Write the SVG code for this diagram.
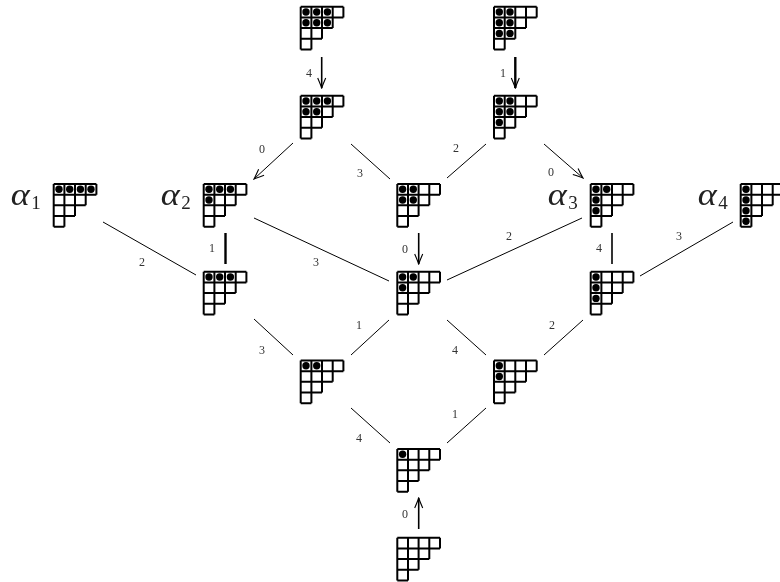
<svg xmlns="http://www.w3.org/2000/svg" width="780" height="582" viewBox="0 0 780 582">
<style>
.g{fill:none;stroke:#000;stroke-width:2}
.c{fill:none;stroke:#000;stroke-width:1}
.t{stroke-width:2.4}
.m{stroke-width:1.6}
.l{font:12px "Liberation Serif",serif;fill:#333;text-anchor:middle}
.a{font:italic 32px "Liberation Serif",serif;fill:#222}
.s{font:19px "Liberation Serif",serif;fill:#222}
</style>
<defs>
<filter id="f" x="0" y="0" width="780" height="582" filterUnits="userSpaceOnUse"><feOffset dx="0" dy="0"/></filter>
<filter id="f2" x="-50" y="-20" width="40" height="60" filterUnits="userSpaceOnUse"><feOffset dx="0" dy="0"/></filter>
<marker id="h" viewBox="-11 -6 12 12" markerWidth="12" markerHeight="12" refX="0" refY="0" orient="auto" markerUnits="userSpaceOnUse"><path d="M-10-4Q-3-1 0 0Q-3 1-10 4" fill="none" stroke="#000" stroke-width="1.1"/></marker>
<path id="y" class="g" d="M0 0H42.7M0 10.7H42.7M0 21.3H32M0 32H21.3M0 42.7H10.7M0 0V42.7M10.7 0V42.7M21.3 0V32M32 0V21.3M42.7 0V10.7"/>
<circle id="d" r="3.7"/>
</defs>
<g id="connectors">
<path class="c m" d="M321.7 57V88" marker-end="url(#h)"/>
<path class="c t" d="M515.3 57V88" marker-end="url(#h)"/>
<path class="c" d="M293 143L254 179" marker-end="url(#h)"/>
<path class="c" d="M351 144L390 179"/>
<path class="c" d="M486 144L447 178"/>
<path class="c" d="M544 144L583 178" marker-end="url(#h)"/>
<path class="c" d="M103 222L196 275"/>
<path class="c t" d="M225.5 233V264"/>
<path class="c" d="M254 218L389 281"/>
<path class="c m" d="M418.7 233V264" marker-end="url(#h)"/>
<path class="c" d="M447 280L582 218"/>
<path class="c m" d="M612 233V264"/>
<path class="c" d="M733 222L640 276"/>
<path class="c" d="M254 319L293 355"/>
<path class="c" d="M389 320L351 355"/>
<path class="c" d="M447 320L486 355"/>
<path class="c" d="M583 320L544 355"/>
<path class="c" d="M351 408L390 443"/>
<path class="c" d="M486 408L447 443"/>
<path class="c m" d="M418.7 529V498" marker-end="url(#h)"/>
<g class="labels" filter="url(#f)">
<text class="l" x="309" y="77">4</text>
<text class="l" x="503" y="77">1</text>
<text class="l" x="262" y="153">0</text>
<text class="l" x="360" y="177">3</text>
<text class="l" x="456" y="152">2</text>
<text class="l" x="551" y="176">0</text>
<text class="l" x="142" y="266">2</text>
<text class="l" x="212" y="252">1</text>
<text class="l" x="316" y="266">3</text>
<text class="l" x="405" y="253">0</text>
<text class="l" x="509" y="240">2</text>
<text class="l" x="599" y="252">4</text>
<text class="l" x="679" y="240">3</text>
<text class="l" x="359" y="329">1</text>
<text class="l" x="455" y="354">4</text>
<text class="l" x="262" y="354">3</text>
<text class="l" x="552" y="329">2</text>
<text class="l" x="359" y="442">4</text>
<text class="l" x="455" y="418">1</text>
<text class="l" x="405" y="518">0</text>
</g>
</g>
<g id="n1" transform="translate(300.7 6.7)"><use href="#y"/><use href="#d" x="5.3" y="5.3"/><use href="#d" x="16" y="5.3"/><use href="#d" x="26.7" y="5.3"/><use href="#d" x="5.3" y="16"/><use href="#d" x="16" y="16"/><use href="#d" x="26.7" y="16"/></g>
<g id="n2" transform="translate(494 6.7)"><use href="#y"/><use href="#d" x="5.3" y="5.3"/><use href="#d" x="16" y="5.3"/><use href="#d" x="5.3" y="16"/><use href="#d" x="16" y="16"/><use href="#d" x="5.3" y="26.7"/><use href="#d" x="16" y="26.7"/></g>
<g id="n3" transform="translate(300.7 95.7)"><use href="#y"/><use href="#d" x="5.3" y="5.3"/><use href="#d" x="16" y="5.3"/><use href="#d" x="26.7" y="5.3"/><use href="#d" x="5.3" y="16"/><use href="#d" x="16" y="16"/></g>
<g id="n4" transform="translate(494 95.7)"><use href="#y"/><use href="#d" x="5.3" y="5.3"/><use href="#d" x="16" y="5.3"/><use href="#d" x="5.3" y="16"/><use href="#d" x="16" y="16"/><use href="#d" x="5.3" y="26.7"/></g>
<g id="alpha1" transform="translate(53.7 184)"><use href="#y"/><use href="#d" x="5.3" y="5.3"/><use href="#d" x="16" y="5.3"/><use href="#d" x="26.7" y="5.3"/><use href="#d" x="37.3" y="5.3"/><g filter="url(#f2)"><text class="a" x="-43" y="21" textLength="19" lengthAdjust="spacingAndGlyphs">α</text><text class="s" x="-22.5" y="25">1</text></g></g>
<g id="alpha2" transform="translate(203.7 184)"><use href="#y"/><use href="#d" x="5.3" y="5.3"/><use href="#d" x="16" y="5.3"/><use href="#d" x="26.7" y="5.3"/><use href="#d" x="5.3" y="16"/><g filter="url(#f2)"><text class="a" x="-43" y="21" textLength="19" lengthAdjust="spacingAndGlyphs">α</text><text class="s" x="-22.5" y="25">2</text></g></g>
<g id="n7" transform="translate(397.3 184)"><use href="#y"/><use href="#d" x="5.3" y="5.3"/><use href="#d" x="16" y="5.3"/><use href="#d" x="5.3" y="16"/><use href="#d" x="16" y="16"/></g>
<g id="alpha3" transform="translate(590.7 184)"><use href="#y"/><use href="#d" x="5.3" y="5.3"/><use href="#d" x="16" y="5.3"/><use href="#d" x="5.3" y="16"/><use href="#d" x="5.3" y="26.7"/><g filter="url(#f2)"><text class="a" x="-43" y="21" textLength="19" lengthAdjust="spacingAndGlyphs">α</text><text class="s" x="-22.5" y="25">3</text></g></g>
<g id="alpha4" transform="translate(740.7 184)"><use href="#y"/><use href="#d" x="5.3" y="5.3"/><use href="#d" x="5.3" y="16"/><use href="#d" x="5.3" y="26.7"/><use href="#d" x="5.3" y="37.3"/><g filter="url(#f2)"><text class="a" x="-43" y="21" textLength="19" lengthAdjust="spacingAndGlyphs">α</text><text class="s" x="-22.5" y="25">4</text></g></g>
<g id="n10" transform="translate(203.7 271.7)"><use href="#y"/><use href="#d" x="5.3" y="5.3"/><use href="#d" x="16" y="5.3"/><use href="#d" x="26.7" y="5.3"/></g>
<g id="n11" transform="translate(397.3 271.7)"><use href="#y"/><use href="#d" x="5.3" y="5.3"/><use href="#d" x="16" y="5.3"/><use href="#d" x="5.3" y="16"/></g>
<g id="n12" transform="translate(590.7 271.7)"><use href="#y"/><use href="#d" x="5.3" y="5.3"/><use href="#d" x="5.3" y="16"/><use href="#d" x="5.3" y="26.7"/></g>
<g id="n13" transform="translate(300.7 360.5)"><use href="#y"/><use href="#d" x="5.3" y="5.3"/><use href="#d" x="16" y="5.3"/></g>
<g id="n14" transform="translate(494 360.5)"><use href="#y"/><use href="#d" x="5.3" y="5.3"/><use href="#d" x="5.3" y="16"/></g>
<g id="n15" transform="translate(397.3 449)"><use href="#y"/><use href="#d" x="5.3" y="5.3"/></g>
<g id="n16" transform="translate(397.3 537.7)"><use href="#y"/></g>
</svg>
